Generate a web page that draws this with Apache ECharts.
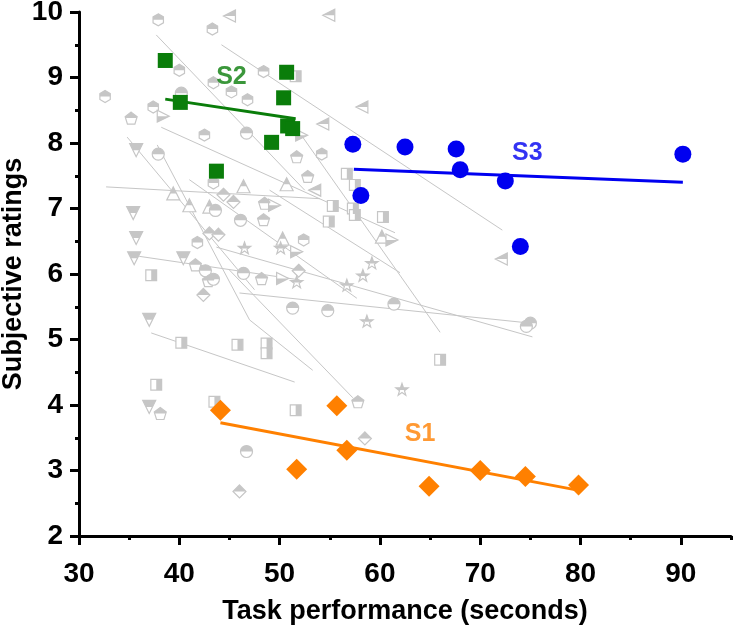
<!DOCTYPE html>
<html>
<head>
<meta charset="utf-8">
<script src="https://cdn.jsdelivr.net/npm/echarts@6/dist/echarts.min.js"></script>
<style>html,body{margin:0;padding:0;background:#fff}#c{width:734px;height:628px}</style>
</head>
<body>
<div id="c"></div>
<script>
// ---------- data ----------
const xMajorTicks = [30, 40, 50, 60, 70, 80, 90];

const s1Points = [[44.1,3.92],[51.7,3.02],[55.7,3.99],[56.7,3.31],[64.9,2.76],[70.0,3.00],[74.5,2.91],[79.8,2.78]];
const s1Fit = [[44.1,3.73],[79.7,2.70]];
const s2Points = [[38.6,9.26],[40.1,8.62],[43.7,7.57],[50.7,9.08],[50.4,8.69],[50.8,8.26],[51.3,8.22],[49.2,8.01]];
const s2Fit = [[38.6,8.67],[51.6,8.37]];
const s3Points = [[57.3,7.98],[58.1,7.20],[62.5,7.94],[67.6,7.91],[68.0,7.59],[72.5,7.42],[74.0,6.42],[90.2,7.83]];
const s3Fit = [[57.4,7.60],[90.2,7.40]];
const groupNames = ['S1','S2','S3'];
const groupLabelAt = [[64.0,3.55],[45.2,9.00],[74.7,7.84]];

// other participants (grey)
const grayHexagon = [[37.9,9.88],[43.3,9.74],[40.0,9.11],[43.4,8.92],[45.2,8.78],[37.4,8.55],[42.5,8.12],[43.4,7.39],[48.4,9.09],[46.8,8.66],[54.2,7.83],[52.4,6.52],[41.8,6.48],[32.6,8.71]];
const grayPentagon = [[35.2,8.38],[51.7,7.79],[52.8,7.49],[48.5,7.08],[48.4,6.83],[48.2,5.93],[38.1,3.87],[57.8,4.05],[41.6,6.14],[42.9,5.90]];
const grayTriDown = [[35.7,7.89],[35.4,6.93],[35.7,6.55],[35.5,6.24],[37.0,5.30],[37.0,3.97],[40.4,6.24]];
const grayTriUp = [[39.4,7.23],[41.0,7.05],[43.0,7.03],[46.4,7.34],[50.7,7.37],[50.3,6.54],[60.2,6.57]];
const grayTriLeft = [[45.0,9.94],[54.9,9.95],[58.2,8.55],[54.3,8.29],[53.5,7.28],[72.1,6.23]];
const grayTriRight = [[38.4,8.41],[52.2,8.12],[49.5,7.05],[51.7,6.34],[50.3,5.93],[61.2,6.52]];
const grayCircle = [[40.2,8.76],[46.7,8.15],[37.9,7.83],[43.6,6.97],[46.1,6.82],[46.4,6.01],[51.3,5.48],[54.8,5.44],[61.4,5.54],[75.0,5.25],[74.6,5.20],[46.7,3.29],[42.6,6.05],[43.4,5.92]];
const graySquare = [[37.2,5.98],[40.2,4.95],[45.8,4.92],[55.3,7.04],[57.3,7.00],[57.5,6.90],[60.3,6.87],[54.9,6.80],[56.7,7.53],[57.5,7.36],[48.7,4.94],[48.7,4.79],[37.7,4.31],[43.5,4.05],[51.6,3.92],[66.0,4.69],[51.6,9.02]];
const grayDiamond = [[42.4,5.68],[43.0,6.62],[43.9,6.60],[44.4,7.21],[45.4,7.10],[46.0,2.68],[58.5,3.49],[51.9,6.05]];
const grayStar = [[46.5,6.39],[50.1,6.39],[51.7,5.87],[59.2,6.16],[58.3,5.97],[56.7,5.82],[58.7,5.27],[62.2,4.23]];

const grayFits = [
  [[37.7,9.65],[52.5,7.28]],
  [[44.2,9.50],[72.2,6.67]],
  [[38.2,8.24],[61.5,6.63]],
  [[32.7,7.33],[54.0,7.15]],
  [[34.8,8.09],[47.5,5.76]],
  [[37.8,7.97],[47.0,5.30]],
  [[36.0,6.27],[52.0,5.91]],
  [[37.2,5.10],[51.5,4.35]],
  [[41.0,7.44],[57.7,5.63]],
  [[46.0,5.71],[75.0,5.25]],
  [[43.7,6.41],[75.2,5.04]],
  [[45.0,6.06],[57.3,4.11]],
  [[52.3,8.09],[66.0,5.11]],
  [[49.0,7.28],[62.0,6.02]],
  [[47.0,5.30],[53.3,4.53]]
];

// ---------- styling ----------
const GRAY = '#c6c6c6';
const ORANGE = '#ff8000';
const GREEN = '#0a7d0a';
const BLUE = '#0000f0';
const FONT = '"Liberation Sans", Arial, Helvetica, sans-serif';
const BOX = 'M0 0 L0 0 Z M10 10 L10 10 Z ';

const shapes = {
  hex:  {o: 'M5 0 L9.33 2.5 L9.33 7.5 L5 10 L0.67 7.5 L0.67 2.5 Z', h: 'M5 0 L9.33 2.5 L9.33 5 L0.67 5 L0.67 2.5 Z'},
  pent: {o: 'M5 0 L10 3.8 L8.1 10 L1.9 10 L0 3.8 Z', h: 'M5 0 L10 3.8 L9.63 5 L0.37 5 L0 3.8 Z'},
  tri:  {o: 'M5 0 L10 10 L0 10 Z', h: 'M5 0 L7.5 5 L2.5 5 Z'},
  triB: {o: 'M5 0 L10 10 L0 10 Z', h: 'M2.5 5 L7.5 5 L10 10 L0 10 Z'},
  triR: {o: 'M5 0 L10 10 L0 10 Z', h: 'M5 0 L10 10 L5 10 Z'},
  circ: {o: 'M0 5 A5 5 0 1 1 10 5 A5 5 0 1 1 0 5 Z', h: 'M0 5 A5 5 0 0 1 10 5 Z'},
  sq:   {o: 'M0.5 0.5 L9.5 0.5 L9.5 9.5 L0.5 9.5 Z', h: 'M5 0.5 L9.5 0.5 L9.5 9.5 L5 9.5 Z'},
  dia:  {o: 'M5 0 L10 5 L5 10 L0 5 Z', h: 'M5 0 L10 5 L0 5 Z'},
  star: {o: 'M5 0 L6.18 3.38 L9.76 3.45 L6.9 5.62 L7.94 9.05 L5 7 L2.06 9.05 L3.1 5.62 L0.24 3.45 L3.82 3.38 Z', h: 'M5 0 L6.18 3.38 L9.76 3.45 L7.72 5 L2.28 5 L0.24 3.45 L3.82 3.38 Z'}
};

function grayMarkers(data, shape, size, rotate) {
  const s = shapes[shape];
  return [
    {type: 'scatter', data: data, symbol: 'path://' + BOX + s.o, symbolSize: size, symbolRotate: rotate || 0,
     itemStyle: {color: '#ffffff', borderColor: GRAY, borderWidth: 1.2, opacity: 1}, z: 3, silent: true},
    {type: 'scatter', data: data, symbol: 'path://' + BOX + s.h, symbolSize: size, symbolRotate: rotate || 0,
     itemStyle: {color: GRAY, borderWidth: 0, opacity: 1}, z: 4, silent: true}
  ];
}

const series = [];
grayFits.forEach(function (f) {
  series.push({type: 'line', data: f, symbol: 'none', lineStyle: {color: GRAY, width: 1}, z: 2, silent: true});
});
series.push.apply(series, grayMarkers(grayHexagon, 'hex', 12));
series.push.apply(series, grayMarkers(grayPentagon, 'pent', 12));
series.push.apply(series, grayMarkers(grayTriDown, 'triB', 13, 180));
series.push.apply(series, grayMarkers(grayTriUp, 'tri', 13));
series.push.apply(series, grayMarkers(grayTriLeft, 'triR', 12, 90));
series.push.apply(series, grayMarkers(grayTriRight, 'triR', 12, -90));
series.push.apply(series, grayMarkers(grayCircle, 'circ', 12));
series.push.apply(series, grayMarkers(graySquare, 'sq', 12));
series.push.apply(series, grayMarkers(grayDiamond, 'dia', 13));
series.push.apply(series, grayMarkers(grayStar, 'star', 13));

// highlighted participants
series.push({type: 'line', data: s1Fit, symbol: 'none', lineStyle: {color: ORANGE, width: 3}, z: 10});
series.push({type: 'line', data: s2Fit, symbol: 'none', lineStyle: {color: GREEN, width: 3}, z: 10});
series.push({type: 'line', data: s3Fit, symbol: 'none', lineStyle: {color: BLUE, width: 3}, z: 10});
series.push({type: 'scatter', data: s1Points, symbol: 'diamond', symbolSize: 21, itemStyle: {color: ORANGE, opacity: 1}, z: 11});
series.push({type: 'scatter', data: s2Points, symbol: 'rect', symbolSize: 15, itemStyle: {color: GREEN, opacity: 1}, z: 11});
series.push({type: 'scatter', data: s3Points, symbol: 'circle', symbolSize: 17, itemStyle: {color: BLUE, opacity: 1}, z: 11});

const labelColors = [ORANGE, GREEN, BLUE];
series.push({
  type: 'scatter', symbolSize: 0, z: 12, silent: true,
  data: groupNames.map(function (n, i) {
    return {name: n, value: groupLabelAt[i],
      label: {show: true, position: 'inside', formatter: '{b}', color: labelColors[i],
        fontSize: 25, fontWeight: 'bold', fontFamily: FONT}};
  })
});

const gridBox = {left: 79, right: 3, top: 12, bottom: 92, containLabel: false, outerBoundsMode: 'none'};
const tickStyle = {color: '#000', width: 3};
const option = {
  animation: false,
  backgroundColor: '#fff',
  grid: [gridBox, Object.assign({}, gridBox)],
  xAxis: [{
    type: 'value', gridIndex: 0, min: 30, max: 95, interval: 10,
    name: 'Task performance (seconds)', nameLocation: 'middle', nameGap: 62, nameMoveOverlap: false,
    nameTextStyle: {fontSize: 27, fontWeight: 'bold', color: '#000', fontFamily: FONT},
    axisLine: {show: true, onZero: false, lineStyle: {color: '#000', width: 3}},
    axisTick: {show: true, length: 9, lineStyle: tickStyle, customValues: xMajorTicks},
    axisLabel: {fontSize: 28, fontWeight: 'bold', color: '#000', fontFamily: FONT, margin: 24,
      customValues: xMajorTicks},
    splitLine: {show: false}
  }, {
    type: 'value', gridIndex: 1, min: 30, max: 95, interval: 5, position: 'bottom',
    axisLine: {show: false, onZero: false},
    axisTick: {show: true, length: 4, lineStyle: tickStyle},
    axisLabel: {show: false},
    splitLine: {show: false}
  }],
  yAxis: [{
    type: 'value', gridIndex: 0, min: 2, max: 10, interval: 1,
    name: 'Subjective ratings', nameLocation: 'middle', nameGap: 52, nameRotate: 90, nameMoveOverlap: false,
    nameTextStyle: {fontSize: 27, fontWeight: 'bold', color: '#000', fontFamily: FONT},
    axisLine: {show: true, onZero: false, lineStyle: {color: '#000', width: 3}},
    axisTick: {show: true, length: 9, lineStyle: tickStyle},
    minorTick: {show: true, splitNumber: 2, length: 4, lineStyle: tickStyle},
    axisLabel: {fontSize: 28, fontWeight: 'bold', color: '#000', fontFamily: FONT, margin: 16},
    splitLine: {show: false}
  }, {
    type: 'value', gridIndex: 1, min: 2, max: 10, show: false
  }],
  series: series
};

const chart = echarts.init(document.getElementById('c'), null, {renderer: 'canvas'});
chart.setOption(option);
</script>
</body>
</html>
